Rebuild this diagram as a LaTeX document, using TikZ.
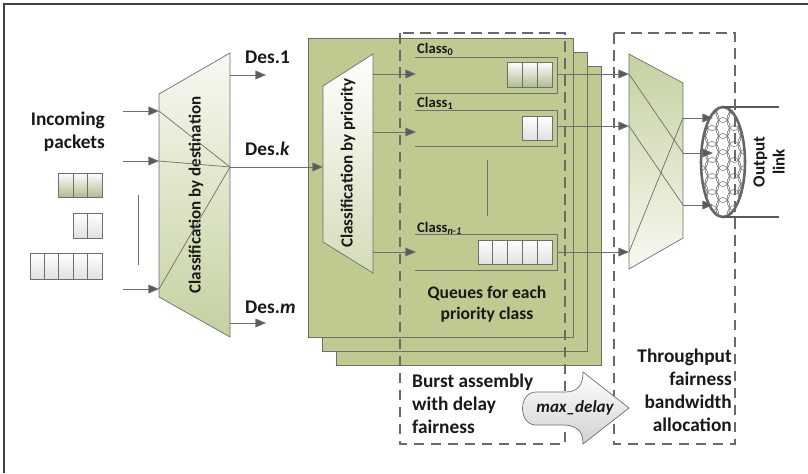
\documentclass[tikz,border=0pt]{standalone}
\usepackage{fontspec}
\setmainfont{Carlito}
\usetikzlibrary{arrows.meta}

\definecolor{boxgreen}{RGB}{190,202,143}
\definecolor{trapgreen}{RGB}{196,209,160}
\definecolor{trapwhite}{RGB}{247,249,241}
\definecolor{linegray}{RGB}{110,110,110}
\definecolor{tipgray}{RGB}{90,90,90}
\definecolor{dashgray}{RGB}{105,105,105}
\definecolor{txtdark}{RGB}{25,25,25}

\tikzset{
  lbl/.style={font=\fontsize{16.5}{19.5}\selectfont\bfseries, text=txtdark, inner sep=0pt},
  rotlbl/.style={font=\fontsize{14.5}{17}\selectfont\bfseries, text=txtdark, inner sep=0pt, rotate=90},
  clslbl/.style={font=\fontsize{12.5}{14}\selectfont\bfseries, text=txtdark, inner sep=0pt, anchor=west},
  flow/.style={draw=linegray, line width=0.7pt, -{Triangle[length=9pt,width=7.5pt,fill=tipgray]}},
  thinline/.style={draw=linegray, line width=0.6pt},
  cell/.style={draw=linegray, line width=0.6pt, top color=white, bottom color=black!12},
  gcell/.style={draw=linegray, line width=0.6pt, top color=white, bottom color=trapgreen!90!black},
  dashbox/.style={draw=dashgray, line width=2.1pt, dash pattern=on 9pt off 5.5pt},
}

\begin{document}
\begin{tikzpicture}[x=0.03cm, y=-0.03cm]
\useasboundingbox (0,0) rectangle (808,473);

% outer frame
\draw[black!75, line width=1.1pt] (4,473) -- (4,4) -- (808,4);

% stacked burst assemblers, back to front
\foreach \d in {28,14,0}
  \draw[draw=linegray, line width=0.6pt, fill=boxgreen] (308+\d,38+\d) rectangle (573+\d,337+\d);

% classifier by destination
\shade[top color=trapwhite, bottom color=trapgreen, draw=linegray, line width=0.6pt]
  (159,94) -- (230,53) -- (230,337) -- (159,297) -- cycle;
\node[rotlbl] (bydest) at (196,195) {Classification by destination};

\coordinate (src1) at (123,111);
\coordinate (src2) at (123,161);
\coordinate (src3) at (123,289);
\coordinate (in1) at (159,111);
\coordinate (in2) at (159,161);
\coordinate (in3) at (159,289);
\coordinate (outk) at (230,167);
\coordinate (outone) at (230,75);
\coordinate (outm) at (230,323);
\coordinate (endone) at (266,75);
\coordinate (endm) at (266,323);

\foreach \i in {1,2,3} {
  \draw[flow] (src\i) -- (in\i);
  \draw[thinline] (in\i) -- (outk);
}

% incoming packets
\node[lbl, align=right, anchor=north east] (incoming) at (105,112) {Incoming\\packets};
\foreach \k in {0,1,2}
  \draw[gcell] (58.8+14.4*\k,173) rectangle ++(14.4,24);
\foreach \k in {0,1}
  \draw[cell] (73.2+14.4*\k,213) rectangle ++(14.4,25);
\foreach \k in {0,...,4}
  \draw[cell] (30+14.4*\k,253) rectangle ++(14.4,26);
\draw[thinline] (138,195) -- (138,265);

% destinations
\draw[flow] (outone) -- (endone);
\draw[flow] (outm) -- (endm);
\node[lbl, anchor=west] (desone) at (245,57) {Des.1};
\node[lbl, anchor=west] (desk) at (245,149) {Des.\textit{k}};
\node[lbl, anchor=west] (desm) at (245,307) {Des.\textit{m}};

% classifier by priority
\shade[top color=white, bottom color=trapgreen!75!white, draw=linegray, line width=0.6pt]
  (323,86) -- (373,54) -- (373,273) -- (323,242) -- cycle;
\node[rotlbl] (byprio) at (348,163) {Classification by priority};
\coordinate (pin) at (323,167);
\draw[flow] (outk) -- (pin);

\coordinate (p1) at (373,74);
\coordinate (p2) at (373,132);
\coordinate (p3) at (373,252);
\coordinate (q1) at (416,74);
\coordinate (q2) at (416,132);
\coordinate (q3) at (416,252);
\foreach \i in {1,2,3}
  \draw[flow] (p\i) -- (q\i);

% priority queues
\foreach \t in {57,110,234}
  \draw[thinline] (415,\t) -- (557,\t) -- (557,\t+36) -- (415,\t+36);
\foreach \k in {0,1,2}
  \draw[gcell] (507+15*\k,62) rectangle ++(15,25);
\foreach \k in {0,1}
  \draw[cell] (522+15*\k,116) rectangle ++(15,24);
\foreach \k in {0,...,4}
  \draw[cell] (478+14.8*\k,240) rectangle ++(14.8,24);
\draw[thinline] (487,160) -- (487,216);

\node[clslbl] (cls0) at (417,49) {Class\textsubscript{0}};
\node[clslbl] (cls1) at (417,103) {Class\textsubscript{1}};
\node[clslbl] (clsn) at (417,228) {Class\textsubscript{\itshape n-1}};
\node[lbl, font=\fontsize{15}{18}\selectfont\bfseries, align=center, anchor=north] (queues) at (487,286) {Queues for each\\priority class};

% bandwidth allocator
\shade[top color=trapgreen, bottom color=trapwhite, draw=linegray, line width=0.6pt]
  (629,54) -- (683,83) -- (683,238) -- (629,269) -- cycle;
\coordinate (qo1) at (557,74);
\coordinate (qo2) at (557,126);
\coordinate (qo3) at (557,252);
\coordinate (r1) at (629,74);
\coordinate (r2) at (629,126);
\coordinate (r3) at (629,252);
\coordinate (o1) at (683,118);
\coordinate (o2) at (683,153);
\coordinate (o3) at (683,205);
\foreach \i in {1,2,3}
  \draw[flow] (qo\i) -- (r\i);
\draw[thinline] (r1) -- (o2);
\draw[thinline] (r2) -- (o3);
\draw[thinline] (r3) -- (o1);

% output link with its mesh
\begin{scope}
  \clip (723,162) ellipse [x radius=22, y radius=55];
  \fill[white] (700,105) rectangle (746,219);
  \foreach \i in {0,...,4}
    \foreach \j in {0,...,7} {
      \pgfmathsetmacro{\cy}{96+16*\j+8*mod(\i,2)}
      \draw[black!60, line width=0.45pt] (701+11*\i,\cy) ellipse [x radius=7, y radius=10.5];
    }
\end{scope}
\draw[black!60, line width=2.2pt] (723,162) ellipse [x radius=22, y radius=55];
\coordinate (e1) at (713,118);
\coordinate (e2) at (713,153);
\coordinate (e3) at (713,205);
\foreach \i in {1,2,3}
  \draw[flow] (o\i) -- (e\i);
\coordinate (ltop) at (723,107);
\coordinate (lbot) at (723,217);
\coordinate (ltopend) at (779,107);
\coordinate (lbotend) at (779,217);
\draw[black!65, line width=1.4pt] (ltop) -- (ltopend);
\draw[black!65, line width=1.4pt] (lbot) -- (lbotend);
\node[font=\fontsize{14.5}{17}\selectfont\bfseries, text=txtdark, inner sep=0pt, rotate=90, align=center] (outlink) at (769,162) {Output\\link};

% stage labels
\node[lbl, align=left, anchor=north west] (burst) at (412,374) {Burst assembly\\with delay\\fairness};
\node[lbl, align=right, anchor=north east] (tput) at (732,349) {Throughput\\fairness\\bandwidth\\allocation};

% stage borders
\draw[dashbox] (400,33) rectangle (565,444);
\draw[dashbox] (614,33) rectangle (735,444);

% max_delay hand-over, on top of the borders
\shade[top color=white, bottom color=black!18, draw=linegray, line width=0.6pt]
  (583,372) -- (629,408) -- (583,444)
  .. controls (583,432) and (578,426) .. (565,425) -- (536,425)
  .. controls (518,425) and (518,392) .. (536,392) -- (565,392)
  .. controls (578,392) and (583,385) .. (583,372) -- cycle;
\node[font=\fontsize{14.5}{17}\selectfont\bfseries\itshape, text=txtdark, inner sep=0pt] (maxdelay) at (575,408) {max\_delay};
\end{tikzpicture}
\end{document}
